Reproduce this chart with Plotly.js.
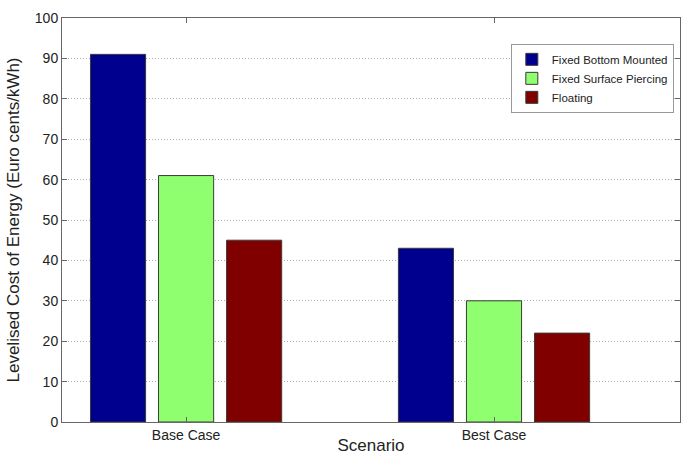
<!DOCTYPE html>
<html>
<head>
<meta charset="utf-8">
<script src="https://cdn.plot.ly/plotly-3.0.1.min.js"></script>
<style>
html,body{margin:0;padding:0;background:#fff;}
#chart{width:686px;height:455px;}
</style>
</head>
<body>
<div id="chart"></div>
<script>
const scenarios = ["Base Case", "Best Case"];
const seriesNames = ["Fixed Bottom Mounted", "Fixed Surface Piercing", "Floating"];
const fixedBottom = [91, 43];
const fixedSurface = [61, 30];
const floating = [45, 22];
const colors = ["#00008F", "#8FFF70", "#800000"];
const yTicks = [0, 10, 20, 30, 40, 50, 60, 70, 80, 90, 100];

const values = [fixedBottom, fixedSurface, floating];
const traces = values.map((v, i) => ({
  type: "bar",
  name: seriesNames[i],
  x: scenarios,
  y: v,
  marker: {color: colors[i], line: {color: "#3a3a3a", width: 1}},
  hoverinfo: "x+y+name"
}));

const layout = {
  width: 686, height: 455,
  paper_bgcolor: "#fff", plot_bgcolor: "#fff",
  margin: {l: 62, r: 6, t: 18, b: 33, pad: 0},
  font: {family: "Liberation Sans, Arial, sans-serif", color: "#222"},
  barmode: "group",
  bargap: 0.337,
  bargroupgap: 0.19,
  xaxis: {
    type: "category",
    range: [-0.403, 1.604],
    showline: true, linecolor: "#666", linewidth: 1, mirror: "ticks",
    ticks: "inside", ticklen: 5, tickcolor: "#666",
    showgrid: false, zeroline: false,
    tickfont: {size: 14, color: "#222"},
    title: {text: "Scenario", font: {size: 17, color: "#222"}, standoff: 6}
  },
  yaxis: {
    range: [0, 100],
    tickvals: yTicks,
    showline: true, linecolor: "#666", linewidth: 1, mirror: "ticks",
    ticks: "inside", ticklen: 5, tickcolor: "#666",
    showgrid: true, gridcolor: "#b0b0b0", griddash: "1px,2px", gridwidth: 1,
    zeroline: false,
    tickfont: {size: 14, color: "#222"},
    title: {text: "Levelised Cost of Energy (Euro cents/kWh)", font: {size: 17, color: "#222"}, standoff: 10}
  },
  legend: {
    x: 0.99, y: 0.936, xanchor: "right", yanchor: "top",
    bgcolor: "#fff", bordercolor: "#999", borderwidth: 1,
    font: {size: 11.5, color: "#222"},
    tracegroupgap: 0, itemwidth: 30
  },
  showlegend: true
};

Plotly.newPlot("chart", traces, layout, {displayModeBar: false, staticPlot: true});
</script>
</body>
</html>
